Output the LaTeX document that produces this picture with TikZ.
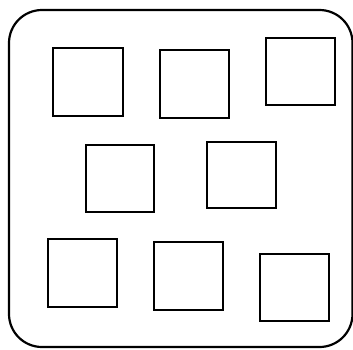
\documentclass[tikz,border=0pt]{standalone}
\begin{document}
\begin{tikzpicture}[x=1pt,y=-1pt,
  frame/.style={draw=black,line width=2.2pt,rounded corners=33pt},
  sq/.style={draw=black,line width=2.6pt}]
\useasboundingbox (0,0) rectangle (353,349);
\path[frame] (9,10) rectangle (352.5,347);
\path[sq] (53,48) rectangle (123,116);
\path[sq] (160,50) rectangle (229,118);
\path[sq] (266,38) rectangle (335,105);
\path[sq] (86,145) rectangle (154,212);
\path[sq] (207,142) rectangle (276,208);
\path[sq] (48,239) rectangle (117,307);
\path[sq] (154,242) rectangle (223,310);
\path[sq] (260,254) rectangle (329,321);
\end{tikzpicture}
\end{document}
